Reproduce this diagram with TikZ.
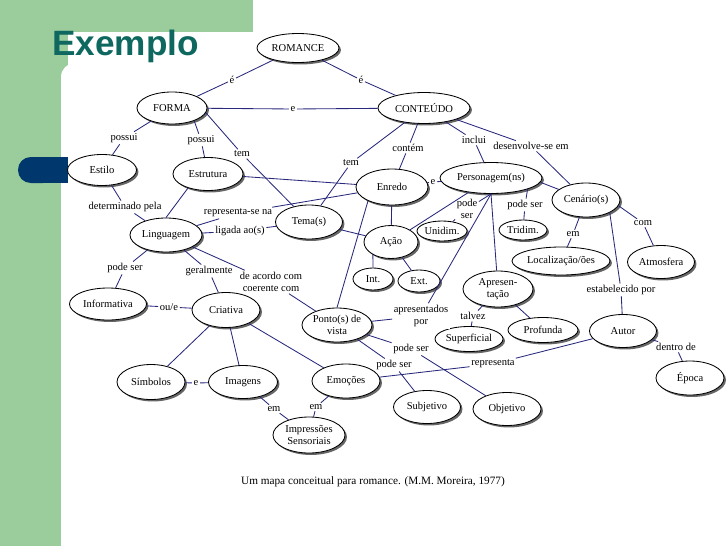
\documentclass[tikz,border=0pt]{standalone}
\usepackage{fontspec}
\setmainfont{Liberation Serif}
\newfontfamily\titlefont{Liberation Sans}
\usetikzlibrary{shapes.geometric,shadows}
\definecolor{bggreen}{RGB}{155,204,155}
\definecolor{titleteal}{RGB}{14,104,96}
\definecolor{tabnavy}{RGB}{0,56,110}
\definecolor{linkblue}{RGB}{40,40,125}
\def\px{0.025cm}

\begin{document}
\begin{tikzpicture}[x=\px,y=-\px,
		every node/.style={font=\fontsize{7.5}{9}\selectfont},
		concept/.style 2 args={ellipse,draw=black,line width=0.6pt,fill=white,inner sep=0pt,
			minimum width=#1*\px,minimum height=#2*\px,align=center,
			drop shadow={shadow xshift=1.4pt,shadow yshift=-1.4pt,fill=black!60,opacity=1}},
		rel/.style={inner sep=1pt,fill=white,align=center},
		link/.style={draw=linkblue,line width=0.6pt}]
		\useasboundingbox (0,0) rectangle (728,546);
		% background
		\fill[bggreen] (0,0) rectangle (253,32);
		\fill[bggreen] (0,0) rectangle (68,546);
		\fill[white,rounded corners=0.35cm] (61,63) rectangle (760,580);
		\fill[tabnavy,rounded corners=0.32cm] (18,157) rectangle (56,183);
		\fill[tabnavy] (40,157) rectangle (68,183);
		\node[font=\titlefont\bfseries\fontsize{25}{30}\selectfont,text=titleteal,anchor=base west,inner sep=0pt] (title) at (52,55) {Exemplo};
		
		% concepts
		\node[concept={82}{29}] (romance) at (298,48) {ROMANCE};
		\node[concept={70}{32}] (forma) at (172,108) {FORMA};
		\node[concept={92}{31}] (conteudo) at (424,108) {CONTEÚDO};
		\node[concept={69}{31}] (estilo) at (102,170) {Estilo};
		\node[concept={70}{33}] (estrutura) at (208,174) {Estrutura};
		\node[concept={72}{36}] (enredo) at (392,187) {Enredo};
		\node[concept={102}{31}] (pers) at (491,178) {Personagem(ns)};
		\node[concept={68}{34}] (cenario) at (586,200) {Cenário(s)};
		\node[concept={67}{34}] (tema) at (309,222) {Tema(s)};
		\node[concept={54}{33}] (acao) at (391,242) {Ação};
		\node[concept={50}{20}] (unidim) at (442,231) {Unidim.};
		\node[concept={48}{20}] (tridim) at (523,230) {Tridim.};
		\node[concept={72}{34}] (linguagem) at (166,235) {Linguagem};
		\node[concept={98}{28}] (localizacao) at (561,261) {Localização/ões};
		\node[concept={67}{33}] (atmosfera) at (661,262) {Atmosfera};
		\node[concept={40}{22}] (int) at (373,279) {Int.};
		\node[concept={42}{22}] (ext) at (419,281) {Ext.};
		\node[concept={70}{36}] (apres) at (498,289) {Apresen-\\tação};
		\node[concept={77}{32}] (informativa) at (108,304) {Informativa};
		\node[concept={68}{35}] (criativa) at (226,310) {Criativa};
		\node[concept={70}{34}] (ponto) at (337,325) {Ponto(s) de\\vista};
		\node[concept={68}{25}] (superficial) at (469,339) {Superficial};
		\node[concept={70}{25}] (profunda) at (543,330) {Profunda};
		\node[concept={67}{33}] (autor) at (623,331) {Autor};
		\node[concept={68}{34}] (epoca) at (690,378) {Época};
		\node[concept={68}{35}] (simbolos) at (151,382) {Símbolos};
		\node[concept={69}{33}] (imagens) at (243,382) {Imagens};
		\node[concept={68}{34}] (emocoes) at (346,381) {Emoções};
		\node[concept={67}{33}] (subjetivo) at (427,407) {Subjetivo};
		\node[concept={68}{33}] (objetivo) at (507,409) {Objetivo};
		\node[concept={72}{36}] (impressoes) at (309,435) {Impressões\\Sensoriais};
		
		% linking words
		\node[rel] (lE1) at (232,80) {é};
		\node[rel] (lE2) at (361,80) {é};
		\node[rel] (lEe) at (293,109) {e};
		\node[rel] (lPos1) at (124,138) {possui};
		\node[rel] (lPos2) at (201,140) {possui};
		\node[rel] (lTem1) at (242,154) {tem};
		\node[rel] (lTem2) at (351,163) {tem};
		\node[rel] (lContem) at (408,148) {contém};
		\node[rel] (lInclui) at (474,140) {inclui};
		\node[rel] (lDesenv) at (531,146) {desenvolve-se em};
		\node[rel] (lE3) at (433,182) {e};
		\node[rel] (lDeterm) at (125,207) {determinado pela};
		\node[rel] (lRepres) at (238,213) {representa-se na};
		\node[rel] (lLigada) at (240,231) {ligada ao(s)};
		\node[rel] (lAcordo) at (271,282) {de acordo com\\coerente com};
		\node[rel] (lPode1) at (125,268) {pode ser};
		\node[rel] (lGeral) at (209,271) {geralmente};
		\node[rel] (lOue) at (169,307) {ou/e};
		\node[rel] (lE4) at (196,383) {e};
		\node[rel] (lEm1) at (274,409) {em};
		\node[rel] (lEm2) at (316,407) {em};
		\node[rel] (lPode2) at (467,209) {pode\\ser};
		\node[rel] (lPode3) at (525,205) {pode ser};
		\node[rel] (lApres) at (421,316) {apresentados\\por};
		\node[rel] (lTalvez) at (473,316) {talvez};
		\node[rel] (lEm3) at (573,234) {em};
		\node[rel] (lCom) at (643,223) {com};
		\node[rel] (lEstab) at (621,290) {estabelecido por};
		\node[rel] (lDentro) at (676,347) {dentro de};
		\node[rel] (lRepta) at (493,364) {representa};
		\node[rel] (lPode4) at (411,349) {pode ser};
		\node[rel] (lPode5) at (394,365) {pode ser};
		
		% links
		\draw[link] (romance) -- (lE1) (lE1) -- (forma);
		\draw[link] (romance) -- (lE2) (lE2) -- (conteudo);
		\draw[link] (forma) -- (lEe) (lEe) -- (conteudo);
		\draw[link] (forma) -- (lPos1) (lPos1) -- (estilo);
		\draw[link] (forma.-30) -- (lPos2) (lPos2) -- (estrutura);
		\draw[link] (forma.-8) -- (lTem1) (lTem1) -- (tema);
		\draw[link] (conteudo) -- (lTem2) (lTem2) -- (tema);
		\draw[link] (conteudo) -- (lContem) (lContem) -- (enredo);
		\draw[link] (conteudo) -- (lInclui) (lInclui) -- (pers);
		\draw[link] (conteudo) -- (lDesenv) (lDesenv) -- (cenario);
		\draw[link] (enredo) -- (lE3) (lE3) -- (pers);
		\draw[link] (estrutura) -- (enredo);
		\draw[link] (estilo) -- (lDeterm) (lDeterm) -- (linguagem);
		\draw[link] (estrutura.215) -- (linguagem.north);
		\draw[link] (linguagem) -- (lRepres) (lRepres) -- (enredo);
		\draw[link] (linguagem) -- (lLigada) (lLigada) -- (tema);
		\draw[link] (linguagem) -- (lAcordo) (lAcordo) -- (ponto);
		\draw[link] (linguagem) -- (lPode1) (lPode1) -- (informativa);
		\draw[link] (linguagem) -- (lGeral) (lGeral) -- (criativa);
		\draw[link] (informativa) -- (lOue) (lOue) -- (criativa);
		\draw[link] (criativa) -- (simbolos);
		\draw[link] (criativa) -- (imagens);
		\draw[link] (criativa) -- (emocoes);
		\draw[link] (simbolos) -- (lE4) (lE4) -- (imagens);
		\draw[link] (imagens) -- (lEm1) (lEm1) -- (impressoes);
		\draw[link] (emocoes) -- (lEm2) (lEm2) -- (impressoes);
		\draw[link] (tema) -- (acao);
		\draw[link] (enredo) -- (acao);
		\draw[link] (enredo.210) -- (ponto.north);
		\draw[link] (acao.215) -- (int.north);
		\draw[link] (acao) -- (ext);
		\draw[link] (pers) -- (acao);
		\draw[link] (pers.south) -- (lPode2) (lPode2) -- (unidim);
		\draw[link] (pers.-17) -- (lPode3) (lPode3) -- (tridim);
		\draw[link] (pers.-5) -- (cenario);
		\draw[link] (pers.south) -- (lApres) (lApres) -- (ponto);
		\draw[link] (pers.south) -- (apres);
		\draw[link] (apres) -- (lTalvez) (lTalvez) -- (superficial);
		\draw[link] (apres) -- (profunda);
		\draw[link] (cenario) -- (lEm3) (lEm3) -- (localizacao);
		\draw[link] (cenario.-10) -- (lCom) (lCom) -- (atmosfera);
		\draw[link] (cenario.-28) -- (lEstab) (lEstab) -- (autor);
		\draw[link] (autor) -- (lDentro) (lDentro) -- (epoca);
		\draw[link] (autor) -- (lRepta) (lRepta) -- (emocoes);
		\draw[link] (ponto) -- (lPode4) (lPode4) -- (objetivo);
		\draw[link] (ponto) -- (lPode5) (lPode5) -- (subjetivo);
		
		\node[font=\fontsize{8}{10}\selectfont] (caption) at (373,482) {Um mapa conceitual para romance. (M.M. Moreira, 1977)};
	\end{tikzpicture}
\end{document}
